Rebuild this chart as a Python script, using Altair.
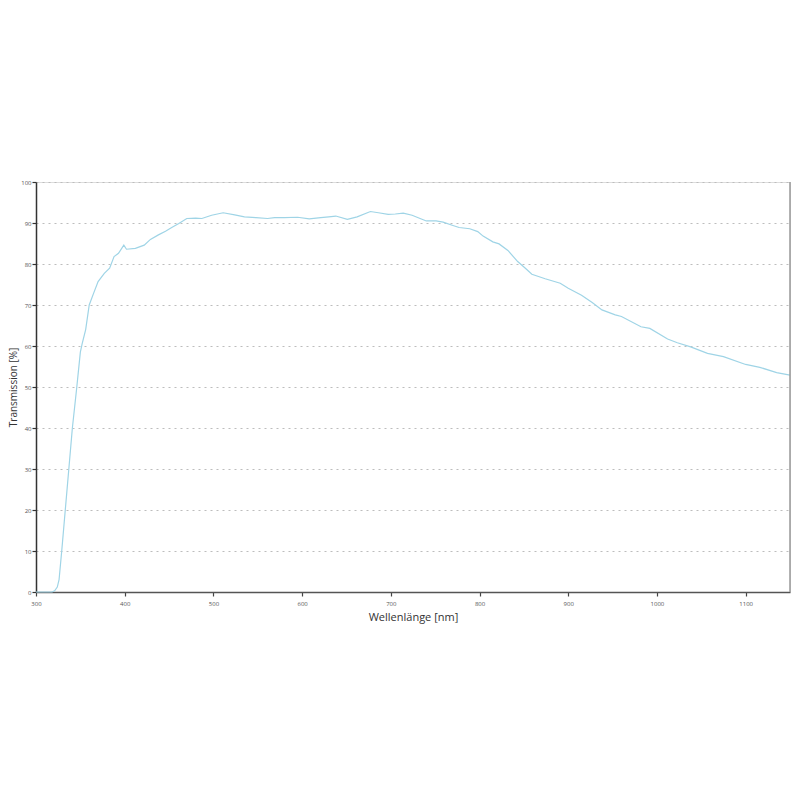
import altair as alt
import pandas as pd

wavelength = [300, 310, 318, 321, 324, 326, 329, 333, 337, 341, 346, 350, 352, 356, 360, 365, 370,
              377, 383, 388, 393, 399, 402, 412, 422, 429, 438, 446, 453, 461, 470, 480, 487, 498,
              511, 524, 535, 548, 561, 569, 580, 595, 608, 621, 630, 638, 651, 662, 677, 686, 697,
              705, 714, 724, 733, 740, 751, 759, 770, 777, 789, 798, 804, 815, 822, 832, 843, 852,
              859, 874, 891, 900, 915, 927, 938, 953, 960, 982, 992, 1012, 1023, 1038, 1057, 1075,
              1100, 1116, 1135, 1150]
transmission = [0, 0, 0, 0.3, 1.2, 3, 10, 20, 30, 40, 50, 58.5, 60.5, 64, 70, 72.9, 75.7,
                77.7, 79, 81.8, 82.6, 84.6, 83.6, 83.8, 84.6, 86, 87.1, 88, 88.9, 89.9, 91.1, 91.2, 91.1, 91.9,
                92.5, 92.0, 91.5, 91.3, 91.1, 91.3, 91.3, 91.4, 91.0, 91.3, 91.5, 91.7, 90.9, 91.5, 92.8, 92.5, 92.1,
                92.2, 92.4, 91.9, 91.1, 90.5, 90.5, 90.2, 89.4, 88.9, 88.6, 87.9, 86.8, 85.4, 84.9, 83.3, 80.6, 78.9,
                77.5, 76.4, 75.3, 74.1, 72.4, 70.6, 68.8, 67.6, 67.2, 64.7, 64.3, 61.7, 60.8, 59.8, 58.2, 57.4,
                55.5, 54.8, 53.5, 52.9]
x_ticks = [300, 400, 500, 600, 700, 800, 900, 1000, 1100]
y_ticks = [0, 10, 20, 30, 40, 50, 60, 70, 80, 90, 100]

df = pd.DataFrame({"wl": wavelength, "t": transmission})

FONT = "Open Sans"

x_enc = alt.X("wl:Q", scale=alt.Scale(domain=[300, 1150], nice=False, zero=False),
              axis=alt.Axis(values=x_ticks, format="d", title="Wellenlänge [nm]", grid=False,
                            labelFlush=False,
                            domainColor="#555555", domainWidth=1.5, tickColor="#444444", tickWidth=1.2,
                            tickSize=4, labelFontSize=6, labelColor="#555555", labelPadding=4,
                            titleFontSize=11, titleFontWeight="normal", titleColor="#333333",
                            titlePadding=5, labelFont=FONT, titleFont=FONT))
y_enc = alt.Y("t:Q", scale=alt.Scale(domain=[0, 100], nice=False),
              axis=alt.Axis(values=y_ticks, format="d", title="Transmission [%]", grid=True,
                            labelFlush=False,
                            gridColor="#bdbdbd", gridDash=[2, 4], gridWidth=1,
                            domainColor="#333333", domainWidth=1.5, tickColor="#333333", tickWidth=1.2,
                            tickSize=4, labelFontSize=6, labelColor="#555555", labelPadding=1,
                            titleFontSize=10, titleFontWeight="normal", titleColor="#333333",
                            titlePadding=2, labelFont=FONT, titleFont=FONT))

line = alt.Chart(df).mark_line(color="#9fd4e6", strokeWidth=1.2).encode(x=x_enc, y=y_enc)

border_df = pd.DataFrame({"x": [1150], "y0": [0], "y1": [100]})
border = alt.Chart(border_df).mark_rule(color="#999999", strokeWidth=1.5).encode(
    x="x:Q", y="y0:Q", y2="y1:Q")

chart = alt.layer(line, border).properties(
    width=754, height=410,
    autosize=alt.AutoSizeParams(type="none"),
    padding={"left": 28, "top": 174, "right": 2, "bottom": 150},
).configure_view(stroke=None).configure(background="white")

chart.save("out.html", embed_options={"renderer": "svg", "actions": False})
